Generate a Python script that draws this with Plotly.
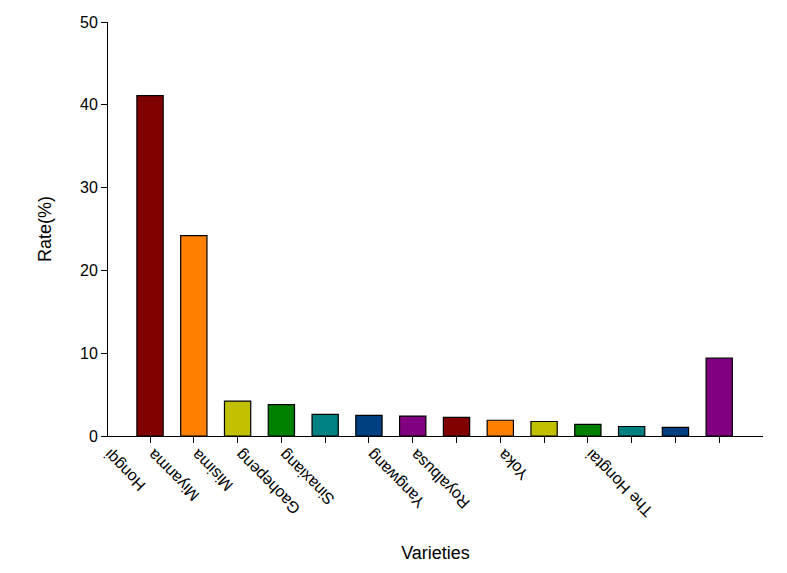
import plotly.graph_objects as go

# bar values (Rate %)
positions = list(range(1, 15))
rates = [41.1, 24.2, 4.2, 3.8, 2.6, 2.5, 2.4, 2.25, 1.9, 1.75, 1.4, 1.15, 1.05, 9.4]
tick_labels = ["Hongqi", "Miyanma", "Misima", "Gaohepeng", "Sinaxiang", "", "Yangwang",
               "Royalbusa", "", "Yoka", "", "The Hongtai", "", ""]
palette = ["#800000", "#FF8000", "#C0C000", "#008000", "#008080", "#004080", "#800080"]
bar_colors = [palette[i % len(palette)] for i in range(len(rates))]

fig = go.Figure()
fig.add_trace(go.Bar(
    x=positions,
    y=rates,
    width=0.6,
    marker=dict(color=bar_colors, line=dict(color="black", width=1.2)),
    showlegend=False,
))

font_family = "Liberation Sans, Arial, sans-serif"

# page body adds 8px offset, so the figure is a bit smaller than the window
fig.update_layout(
    width=779,
    height=565,
    margin=dict(l=100, r=24, t=14, b=137),
    plot_bgcolor="white",
    paper_bgcolor="white",
    font=dict(family=font_family, color="black", size=16),
    xaxis=dict(
        title=dict(text="Varieties", font=dict(size=18), standoff=27),
        range=[0.04, 15.0],
        tickmode="array",
        tickvals=positions,
        ticktext=tick_labels,
        tickangle=-135,
        ticklabelshift=-45,
        ticks="outside",
        ticklen=6,
        tickcolor="black",
        showline=True,
        linecolor="black",
        linewidth=1,
        showgrid=False,
        zeroline=False,
        automargin=False,
    ),
    yaxis=dict(
        title=dict(text="Rate(%)", font=dict(size=18), standoff=23),
        range=[0, 50],
        dtick=10,
        ticks="outside",
        ticklen=6,
        tickcolor="black",
        showline=True,
        linecolor="black",
        linewidth=1,
        showgrid=False,
        zeroline=False,
        automargin=False,
    ),
)

fig.write_html("out.html")
